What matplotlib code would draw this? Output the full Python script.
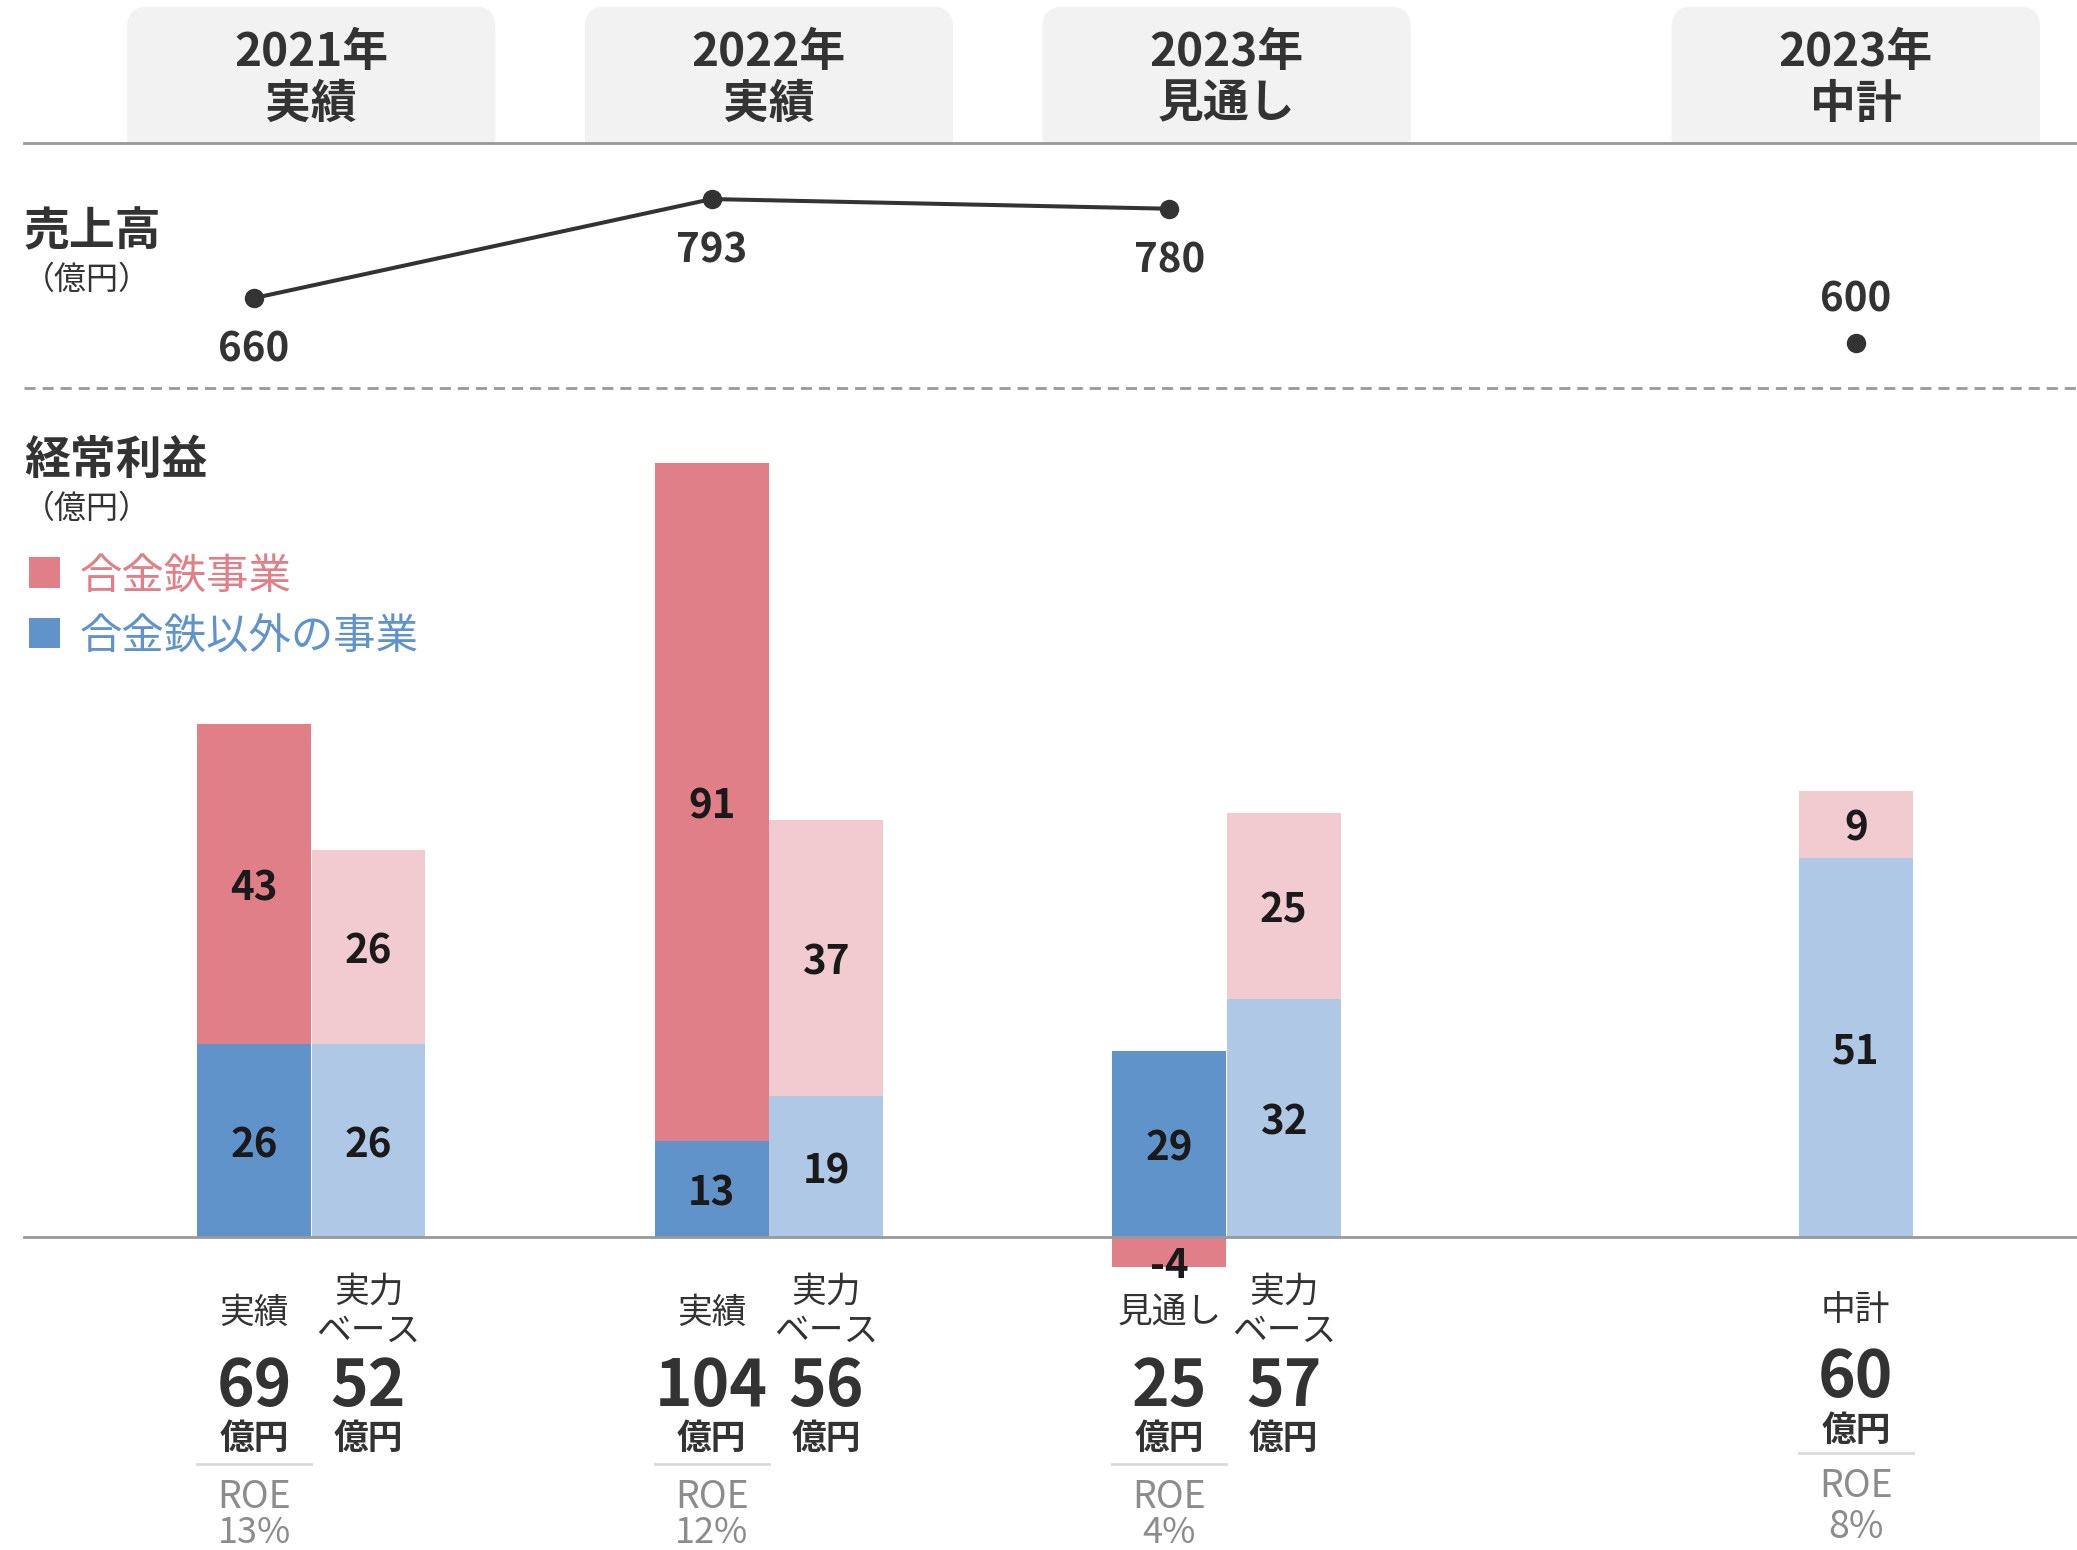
import matplotlib.pyplot as plt
import matplotlib.transforms as mtransforms
from matplotlib.patches import FancyBboxPatch, Rectangle

plt.rcParams['font.family'] = ['Noto Sans CJK JP', 'DejaVu Sans']

# 区分（見出し）
periods = ['2021年\n実績', '2022年\n実績', '2023年\n見通し', '2023年\n中計']
group_x = [0, 1, 2, 3.375]

# 売上高（億円）
sales = [660, 793, 780]
sales_plan = 600

# 経常利益（億円）：実績・見通し
alloy = [43, 91, -4]        # 合金鉄事業
other = [26, 13, 29]        # 合金鉄以外の事業
# 経常利益（億円）：実力ベース
alloy_core = [26, 37, 25]
other_core = [26, 19, 32]
# 中計
plan_alloy = 9
plan_other = 51

first_labels = ['実績', '実績', '見通し']
totals = [69, 104, 25]
core_totals = [52, 56, 57]
roe = ['13%', '12%', '4%']
plan_total = 60
plan_roe = '8%'

RED = '#e07f87'
PINK = '#f2cbd1'
BLUE = '#6193cb'
LBLUE = '#aec8e5'
DARK = '#333333'
GRAY = '#999999'
ROE_GRAY = '#8c8c8c'

W, H = 1568, 1170          # レイアウト用の基準サイズ
UNIT = 345.5               # 1区分あたりの幅
X0 = 235
DY = 3                     # 文字の縦位置補正
xlim = (-X0 / UNIT, (W - X0) / UNIT)
left = (18 - X0) / UNIT
bw = 86 / UNIT


def fy(y):
    return 1 - y / H


def ty(y):
    return fy(y + DY)


fig = plt.figure(figsize=(20.77, 15.5), dpi=100)

# 見出し
ax_h = fig.add_axes([0, 1 - 108 / H, 1, 108 / H])
ax_h.set_xlim(xlim)
ax_h.set_ylim(0, 108 / UNIT)
ax_h.axis('off')
th = mtransforms.blended_transform_factory(ax_h.transData, fig.transFigure)
for g, p in zip(group_x, periods):
    ax_h.add_patch(FancyBboxPatch((g - 139 / UNIT, -0.1), 278 / UNIT, 103 / UNIT + 0.1,
                                  boxstyle='round,pad=0,rounding_size=0.045',
                                  fc='#f2f2f2', ec='none'))
    l1, l2 = p.split('\n')
    ax_h.text(g, ty(37), l1, transform=th, ha='center', va='center',
              fontsize=33, fontweight='bold', color=DARK)
    ax_h.text(g, ty(76), l2, transform=th, ha='center', va='center',
              fontsize=33, fontweight='bold', color=DARK)

# 売上高
ax_s = fig.add_axes([0, fy(293), 1, (293 - 108) / H])
ax_s.set_xlim(xlim)
ax_s.set_ylim(539, 868.2)
ax_s.axis('off')
sx = [g - 0.125 for g in group_x[:3]]
ax_s.plot(sx, sales, color=DARK, lw=2.9, marker='o', markersize=13, zorder=3)
ax_s.plot([group_x[3]], [sales_plan], color=DARK, marker='o', markersize=13, ls='none')
for x, v in zip(sx, sales):
    ax_s.annotate(str(v), (x, v), xytext=(0, -52), textcoords='offset pixels',
                  ha='center', va='center', fontsize=29, fontweight='bold', color=DARK)
ax_s.annotate(str(sales_plan), (group_x[3], sales_plan), xytext=(0, 43),
              textcoords='offset pixels', ha='center', va='center',
              fontsize=29, fontweight='bold', color=DARK)
ax_s.plot([left, xlim[1]], [868.2, 868.2], color=GRAY, lw=2, clip_on=False)
ax_s.plot([left, xlim[1]], [539, 539], color=GRAY, lw=2, ls=(0, (4, 2.5)), clip_on=False)

fig.text(18 / W, ty(172), '売上高', ha='left', va='center', fontsize=33,
         fontweight='bold', color=DARK)
fig.text(17 / W, ty(208), '（億円）', ha='left', va='center', fontsize=23, color=DARK)

# 経常利益
ax = fig.add_axes([0, 0, 1, fy(293)])
ax.set_xlim(xlim)
ax.set_ylim(-42.0, 114.06)
ax.axis('off')
tb = mtransforms.blended_transform_factory(ax.transData, fig.transFigure)

fig.text(18 / W, ty(345), '経常利益', ha='left', va='center', fontsize=33,
         fontweight='bold', color=DARK)
fig.text(17 / W, ty(381), '（億円）', ha='left', va='center', fontsize=23, color=DARK)
for yc, c, t in [(432, RED, '合金鉄事業'), (478, BLUE, '合金鉄以外の事業')]:
    fig.patches.append(Rectangle((22 / W, fy(yc + 11.5)), 23 / W, 23 / H,
                                 transform=fig.transFigure, fc=c, ec='none'))
    fig.text(60 / W, ty(yc), t, ha='left', va='center', fontsize=30.5, color=c)


def label(x, y, v):
    ax.annotate(str(v), (x, y), xytext=(0, -5), textcoords='offset pixels',
                ha='center', va='center', fontsize=29, fontweight='bold',
                color='#1a1a1a', zorder=5)


for i, g in enumerate(group_x[:3]):
    xa, xc = g - 0.125, g + 0.125
    if alloy[i] >= 0:
        ax.bar(xa, other[i], bw, color=BLUE, lw=0)
        ax.bar(xa, alloy[i], bw, bottom=other[i], color=RED, lw=0)
        label(xa, other[i] / 2, other[i])
        label(xa, other[i] + alloy[i] / 2, alloy[i])
    else:
        ax.bar(xa, other[i], bw, bottom=alloy[i], color=BLUE, lw=0)
        ax.bar(xa, alloy[i], bw, color=RED, lw=0)
        label(xa, (alloy[i] + other[i]) / 2, other[i])
        label(xa, alloy[i] * 0.8, alloy[i])
    ax.bar(xc, other_core[i], bw, color=LBLUE, lw=0)
    ax.bar(xc, alloy_core[i], bw, bottom=other_core[i], color=PINK, lw=0)
    label(xc, other_core[i] / 2, other_core[i])
    label(xc, other_core[i] + alloy_core[i] / 2, alloy_core[i])

    # 下部の注記
    ax.text(xa, ty(988), first_labels[i], transform=tb, ha='center', va='center',
            fontsize=25, color=DARK)
    ax.text(xc, ty(972), '実力', transform=tb, ha='center', va='center',
            fontsize=25, color=DARK)
    ax.text(xc, ty(1002), 'ベース', transform=tb, ha='center', va='center',
            fontsize=25, color=DARK)
    for x, v in [(xa, totals[i]), (xc, core_totals[i])]:
        ax.text(x, ty(1044), str(v), transform=tb, ha='center', va='center',
                fontsize=46, fontweight='bold', color=DARK)
        ax.text(x, ty(1083), '億円', transform=tb, ha='center', va='center',
                fontsize=25, fontweight='bold', color=DARK)
    ax.plot([xa - bw / 2, xa + bw / 2], [fy(1105)] * 2, transform=tb,
            color='#d9d9d9', lw=2)
    ax.text(xa, ty(1127), 'ROE', transform=tb, ha='center', va='center',
            fontsize=27, color=ROE_GRAY)
    ax.text(xa, ty(1154), roe[i], transform=tb, ha='center', va='center',
            fontsize=26, color=ROE_GRAY)

# 中計
gp = group_x[3]
ax.bar(gp, plan_other, bw, color=LBLUE, lw=0)
ax.bar(gp, plan_alloy, bw, bottom=plan_other, color=PINK, lw=0)
label(gp, plan_other / 2, plan_other)
label(gp, plan_other + plan_alloy / 2, plan_alloy)
ax.text(gp, ty(986), '中計', transform=tb, ha='center', va='center', fontsize=25, color=DARK)
ax.text(gp, ty(1037), str(plan_total), transform=tb, ha='center', va='center',
        fontsize=46, fontweight='bold', color=DARK)
ax.text(gp, ty(1077), '億円', transform=tb, ha='center', va='center',
        fontsize=25, fontweight='bold', color=DARK)
ax.plot([gp - bw / 2, gp + bw / 2], [fy(1097)] * 2, transform=tb, color='#d9d9d9', lw=2)
ax.text(gp, ty(1119), 'ROE', transform=tb, ha='center', va='center',
        fontsize=27, color=ROE_GRAY)
ax.text(gp, ty(1150), plan_roe, transform=tb, ha='center', va='center',
        fontsize=27, color=ROE_GRAY)

# 基準線
ax.plot([left, xlim[1]], [0, 0], color=GRAY, lw=2, zorder=4, clip_on=False)

fig.savefig('out.png', dpi=100)
